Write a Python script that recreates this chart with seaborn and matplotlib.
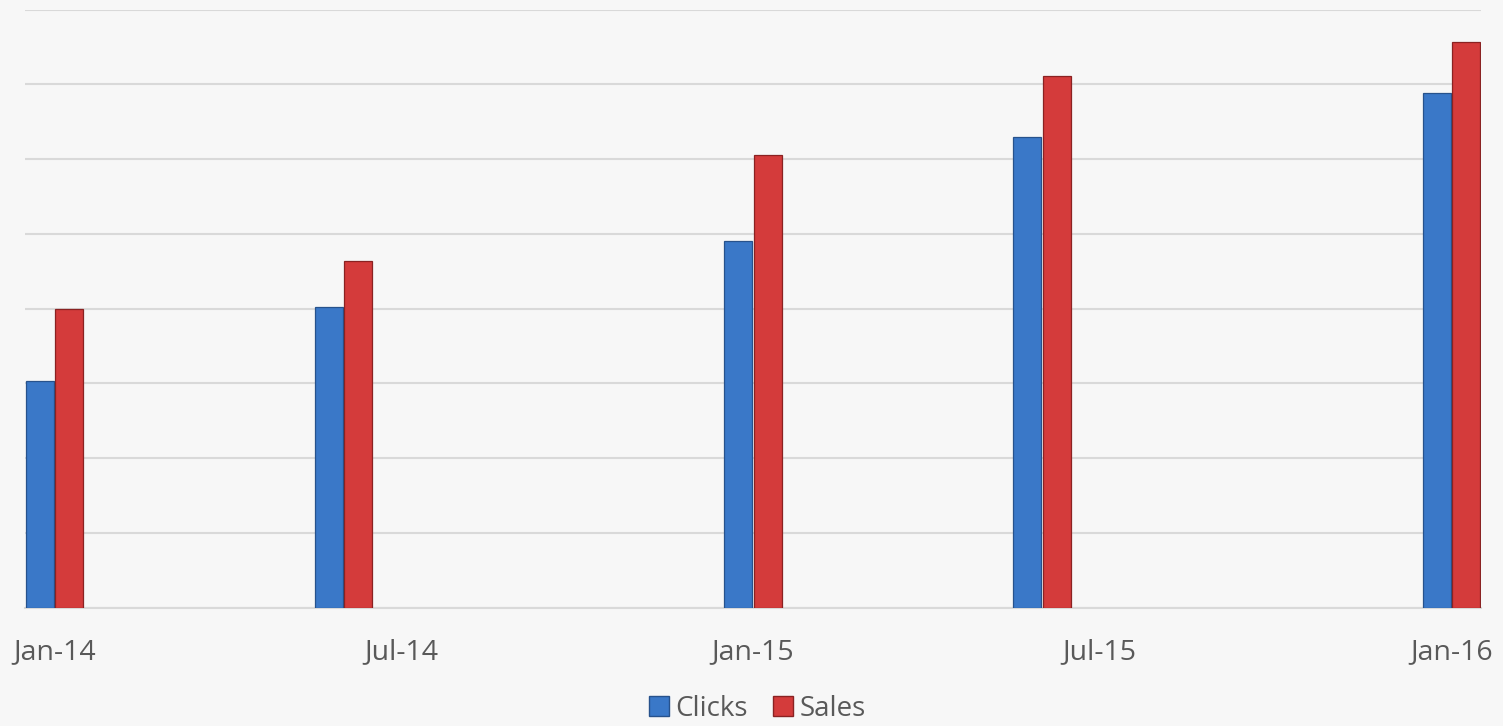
import matplotlib.pyplot as plt
import matplotlib.dates as mdates
import seaborn as sns
import pandas as pd
import datetime as dt

# chart data (units = gridline steps)
dates = ["2014-01-01", "2014-06-01", "2015-01-01", "2015-06-01", "2016-01-01"]
clicks = [3.03, 4.02, 4.90, 6.29, 6.88]
sales = [4.00, 4.63, 6.05, 7.11, 7.56]
series = ["Clicks", "Sales"]
tick_dates = ["2014-01-01", "2014-07-01", "2015-01-01", "2015-07-01", "2016-01-01"]

sns.set_theme(style="white")
plt.rcParams["font.family"] = ["Open Sans", "DejaVu Sans"]

x_num = [mdates.date2num(dt.date.fromisoformat(d)) for d in dates]
df = pd.DataFrame(
    {
        "date": x_num * 2,
        "value": clicks + sales,
        "series": ["Clicks"] * len(dates) + ["Sales"] * len(dates),
    }
)

bg = "#f7f7f7"
fig = plt.figure(figsize=(15.03, 7.26), dpi=100, facecolor=bg)
ax = fig.add_axes([25 / 1503, 1 - 607.5 / 726, 1456 / 1503, 598 / 726])
ax.set_facecolor(bg)

palette = {"Clicks": "#3a78c8", "Sales": "#d43b3b"}
edges = {"Clicks": "#27528c", "Sales": "#8a2222"}
sns.barplot(
    data=df,
    x="date",
    y="value",
    hue="series",
    hue_order=series,
    palette=palette,
    saturation=1,
    native_scale=True,
    width=0.204,
    gap=0.04,
    errorbar=None,
    legend=True,
    ax=ax,
    zorder=3,
)

# darker outline per series
n = len(dates)
for i, patch in enumerate(ax.patches[: 2 * n]):
    name = series[i // n]
    patch.set_edgecolor(edges[name])
    patch.set_linewidth(0.9)

lo = mdates.date2num(dt.date(2014, 1, 1)) - 15.4
hi = mdates.date2num(dt.date(2016, 1, 1)) + 15.4
ax.set_xlim(lo, hi)
ax.set_ylim(0, 8)
ax.set_yticks(range(0, 9))
ax.set_yticklabels([])
ax.yaxis.grid(True, color="#d9d9d9", linewidth=1.5, zorder=0)
ax.set_axisbelow(True)

ax.set_xticks([mdates.date2num(dt.date.fromisoformat(d)) for d in tick_dates])
ax.xaxis.set_major_formatter(mdates.DateFormatter("%b-%y"))
ax.tick_params(axis="x", length=0, pad=22, labelsize=20.5, labelcolor="#595959")
ax.tick_params(axis="y", length=0)
ax.set_xlabel("")
ax.set_ylabel("")
for side in ["top", "right", "left"]:
    ax.spines[side].set_visible(False)
ax.spines["bottom"].set_color("#d9d9d9")
ax.spines["bottom"].set_linewidth(1.5)

handles, labels = ax.get_legend_handles_labels()
ax.legend_.remove()
for h, lab in zip(handles, labels):
    h.set_edgecolor(edges[lab])
fig.legend(
    handles,
    labels,
    loc="lower center",
    bbox_to_anchor=(0.504, -0.03),
    ncol=2,
    frameon=False,
    fontsize=20,
    labelcolor="#595959",
    handlelength=0.7,
    handleheight=0.7,
    handletextpad=0.25,
    columnspacing=0.9,
)

fig.savefig("out.png", dpi=100, facecolor=bg)
